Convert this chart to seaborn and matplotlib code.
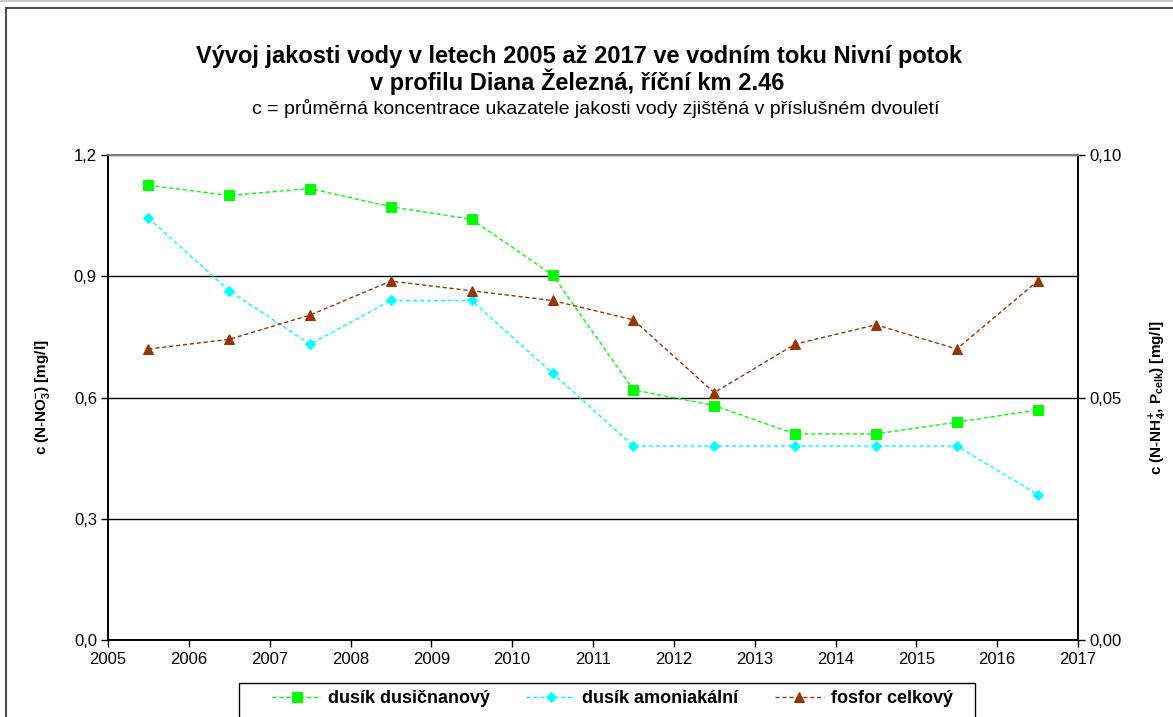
import numpy as np
import pandas as pd
import matplotlib
matplotlib.use("Agg")
import matplotlib.pyplot as plt
import matplotlib.patches as mpatches
from matplotlib.ticker import FuncFormatter, FixedLocator
import seaborn as sns

# --- data ---
roky = [2005.5, 2006.5, 2007.5, 2008.5, 2009.5, 2010.5,
        2011.5, 2012.5, 2013.5, 2014.5, 2015.5, 2016.5]
dusik_dusicnanovy = [1.125, 1.10, 1.117, 1.072, 1.041, 0.903,
                     0.619, 0.58, 0.51, 0.51, 0.539, 0.569]
dusik_amoniakalni = [0.087, 0.072, 0.061, 0.070, 0.070, 0.055,
                     0.040, 0.040, 0.040, 0.040, 0.040, 0.030]
fosfor_celkovy = [0.060, 0.062, 0.067, 0.074, 0.072, 0.070,
                  0.066, 0.051, 0.061, 0.065, 0.060, 0.074]
x_ticks = [2005, 2006, 2007, 2008, 2009, 2010, 2011,
           2012, 2013, 2014, 2015, 2016, 2017]
y_left_ticks = [0.0, 0.3, 0.6, 0.9, 1.2]
y_right_ticks = [0.0, 0.05, 0.10]

df = pd.DataFrame({
    "rok": roky,
    "NO3": dusik_dusicnanovy,
    "NH4": dusik_amoniakalni,
    "P": fosfor_celkovy,
})

sns.set_style("white")
plt.rcParams["font.family"] = ["Liberation Sans", "DejaVu Sans"]
plt.rcParams["mathtext.fontset"] = "custom"
plt.rcParams["mathtext.rm"] = "Liberation Sans:bold"
plt.rcParams["mathtext.default"] = "rm"
plt.rcParams["text.color"] = "black"
plt.rcParams["axes.labelcolor"] = "black"
plt.rcParams["xtick.color"] = "black"
plt.rcParams["ytick.color"] = "black"

W, H = 1173, 717
fig = plt.figure(figsize=(W / 100, H / 100), dpi=100)
ax = fig.add_axes([108 / W, 1 - 640 / H, (1078 - 108) / W, (640 - 155) / H])
ax2 = ax.twinx()

# ramecek grafu
fig.add_artist(mpatches.Rectangle((6 / W, -0.1), 1.2, 1.1 - 8 / H,
                                  transform=fig.transFigure, fill=False,
                                  edgecolor="#505050", lw=1.5, clip_on=False))
fig.add_artist(plt.Line2D([0, 1], [1 - 1 / H, 1 - 1 / H], transform=fig.transFigure,
                          color="#c8c8c8", lw=1.5))

dash = (3, 2)
sns.lineplot(data=df, x="rok", y="NO3", ax=ax, color="#00ff00", marker="s",
             markersize=7, markeredgecolor="#00ff00", linewidth=1.0,
             linestyle=(0, dash), label="dusík dusičnanový", legend=False)
sns.lineplot(data=df, x="rok", y="NH4", ax=ax2, color="#00ffff", marker="D",
             markersize=5.5, markeredgecolor="#00ffff", linewidth=1.0,
             linestyle=(0, dash), label="dusík amoniakální", legend=False)
sns.lineplot(data=df, x="rok", y="P", ax=ax2, color="#993300", marker="^",
             markersize=7.5, markeredgecolor="#993300", linewidth=1.0,
             linestyle=(0, dash), label="fosfor celkový", legend=False)

ax.set_xlim(2005, 2017)
ax.set_ylim(0, 1.2)
ax2.set_ylim(0, 0.10)
ax.xaxis.set_major_locator(FixedLocator(x_ticks))
ax.yaxis.set_major_locator(FixedLocator(y_left_ticks))
ax2.yaxis.set_major_locator(FixedLocator(y_right_ticks))
ax.xaxis.set_major_formatter(FuncFormatter(lambda v, p: f"{int(v)}"))
ax.yaxis.set_major_formatter(FuncFormatter(lambda v, p: f"{v:.1f}".replace(".", ",")))
ax2.yaxis.set_major_formatter(FuncFormatter(lambda v, p: f"{v:.2f}".replace(".", ",")))

for a in (ax, ax2):
    a.tick_params(axis="both", direction="out", length=5, width=1, color="black",
                  labelsize=12, pad=3)
    for s in ("left", "right", "bottom"):
        a.spines[s].set_color("black")
        a.spines[s].set_linewidth(1.2)
    a.spines["top"].set_color("#808080")
    a.spines["top"].set_linewidth(1.2)
    a.set_xlabel("")
ax.tick_params(axis="y", left=True)
ax2.tick_params(axis="y", right=True)
ax.tick_params(axis="x", bottom=True, pad=4)

ax.yaxis.grid(True, color="black", linewidth=1.0)
ax.xaxis.grid(False)
ax2.grid(False)

ax.set_ylabel(r"c (N-NO$_3^{-}$) [mg/l]", fontsize=11, fontweight="bold", labelpad=16)
ax2.set_ylabel(r"c (N-NH$_4^{+}$, P$_{celk}$) [mg/l]", fontsize=11, fontweight="bold",
               labelpad=19)

fig.text(579 / W, 1 - 57 / H, "Vývoj jakosti vody v letech 2005 až 2017 ve vodním toku Nivní potok",
         ha="center", va="center", fontsize=17, fontweight="bold")
fig.text(577 / W, 1 - 82 / H, "v profilu Diana Železná, říční km 2.46",
         ha="center", va="center", fontsize=17, fontweight="bold")
fig.text(596 / W, 1 - 108 / H,
         "c = průměrná koncentrace ukazatele jakosti vody zjištěná v příslušném dvouletí",
         ha="center", va="center", fontsize=14)

# legenda: ramecek zvlast, polozky roztazene
fig.add_artist(mpatches.Rectangle((239 / W, -0.05), (975 - 239) / W, 0.05 + 1 - 683 / H,
                                  transform=fig.transFigure, fill=False,
                                  edgecolor="black", lw=1.0, clip_on=False))
h1, l1 = ax.get_legend_handles_labels()
h2, l2 = ax2.get_legend_handles_labels()
leg = fig.legend(h1 + h2, l1 + l2, loc="upper left",
                 bbox_to_anchor=(265 / W, -0.05, (960 - 265) / W, 1 - 683 / H + 0.05),
                 mode="expand", ncol=3, frameon=False, borderaxespad=0,
                 prop={"weight": "bold", "size": 13}, handlelength=2.7,
                 handletextpad=0.4, borderpad=0.4)

fig.savefig("out.png", dpi=100)
